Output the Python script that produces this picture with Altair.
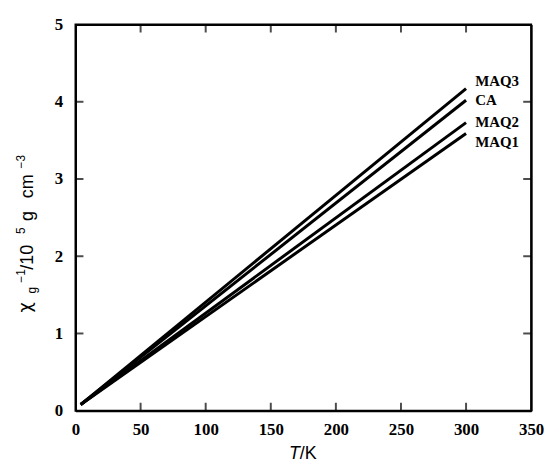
import altair as alt
import pandas as pd

# ---- data ----
series = ["MAQ1", "MAQ2", "CA", "MAQ3"]
t_start = 4
t_end = 300
chi_start = [0.08, 0.08, 0.08, 0.08]
chi_end = [3.59, 3.73, 4.02, 4.17]

label_text = ["MAQ3", "CA", "MAQ2", "MAQ1"]
label_y = [4.27, 4.02, 3.74, 3.48]
label_x = 307

x_ticks = [0, 50, 100, 150, 200, 250, 300, 350]
y_ticks = [0, 1, 2, 3, 4, 5]
x_inner = [50, 100, 150, 200, 250, 300]
y_inner = [1, 2, 3, 4]

W, H = 459, 389
TL = 8  # inward tick length

rows = []
for s, a, b in zip(series, chi_start, chi_end):
    rows.append({"series": s, "T": t_start, "chi": a})
    rows.append({"series": s, "T": t_end, "chi": b})
lines_df = pd.DataFrame(rows)
labels_df = pd.DataFrame({"label": label_text, "chi": label_y, "T": [label_x] * len(label_text)})

xscale = alt.Scale(domain=[0, 350], nice=False, zero=False)
yscale = alt.Scale(domain=[0, 5], nice=False, zero=False)

common = dict(title=None, ticks=False, grid=False, domain=True, domainColor="black",
              domainWidth=2)
x_axis = alt.Axis(values=x_ticks, format="d", labelFont="Liberation Serif", labelFontWeight="bold",
                  labelFontSize=17, labelColor="black", labelPadding=11, labelFlush=False, **common)
y_axis = alt.Axis(values=y_ticks, format="d", labelFont="Liberation Serif", labelFontWeight="bold",
                  labelFontSize=17, labelColor="black", labelPadding=13, labelFlush=False, **common)
x_top = alt.Axis(orient="top", labels=False, **common)
y_right = alt.Axis(orient="right", labels=False, **common)

lines = alt.Chart(lines_df).mark_line(color="black", strokeWidth=3).encode(
    x=alt.X("T:Q", scale=xscale, axis=x_axis),
    y=alt.Y("chi:Q", scale=yscale, axis=y_axis),
    detail="series:N",
)

mirror = alt.Chart(lines_df).mark_line(opacity=0).encode(
    x=alt.X("T:Q", scale=xscale, axis=x_top),
    y=alt.Y("chi:Q", scale=yscale, axis=y_right),
    detail="series:N",
)

labels = alt.Chart(labels_df).mark_text(
    align="left", baseline="middle", font="Liberation Serif", fontWeight="bold",
    fontSize=15, color="black"
).encode(x=alt.X("T:Q", scale=xscale, axis=None), y=alt.Y("chi:Q", scale=yscale, axis=None),
         text="label:N")

xt_df = pd.DataFrame({"T": x_inner})
yt_df = pd.DataFrame({"chi": y_inner})
tick_bottom = alt.Chart(xt_df).mark_tick(orient="vertical", size=TL, thickness=2, color="black",
                                         yOffset=-TL / 2).encode(
    x=alt.X("T:Q", scale=xscale, axis=None), y=alt.value(H))
tick_top = alt.Chart(xt_df).mark_tick(orient="vertical", size=TL, thickness=2, color="black",
                                      yOffset=TL / 2).encode(
    x=alt.X("T:Q", scale=xscale, axis=None), y=alt.value(0))
tick_left = alt.Chart(yt_df).mark_tick(orient="horizontal", size=TL, thickness=2, color="black",
                                       xOffset=TL / 2).encode(
    y=alt.Y("chi:Q", scale=yscale, axis=None), x=alt.value(0))
tick_right = alt.Chart(yt_df).mark_tick(orient="horizontal", size=TL, thickness=2, color="black",
                                        xOffset=-TL / 2).encode(
    y=alt.Y("chi:Q", scale=yscale, axis=None), x=alt.value(W))

# ---- axis titles built from text pieces ----
def piece(text, x, y, size, angle=0, align="left", style="normal", font="Liberation Sans"):
    return alt.Chart(pd.DataFrame({"t": [text]})).mark_text(
        align=align, baseline="alphabetic", font=font, fontSize=size,
        fontStyle=style, angle=angle, color="black"
    ).encode(text="t:N", x=alt.value(x), y=alt.value(y))

ox, oy = 76, 23
xt1 = piece("T", 302 - ox, 461 - oy, 18, align="right", style="italic")
xt2 = piece("/K", 302 - ox, 461 - oy, 18)

ya = []
ya.append(piece("χ", 31 - ox, 313 - oy, 18, angle=270, font="DejaVu Sans"))
ya.append(piece("g", 36 - ox, 294 - oy, 12, angle=270))
ya.append(piece("−1", 25 - ox, 283 - oy, 12, angle=270))
ya.append(piece("/10", 33 - ox, 270 - oy, 18, angle=270))
ya.append(piece("5", 25 - ox, 234 - oy, 12, angle=270))
ya.append(piece("g", 33 - ox, 221 - oy, 18, angle=270))
ya.append(piece("cm", 33 - ox, 198 - oy, 18, angle=270))
ya.append(piece("−3", 25 - ox, 168 - oy, 12, angle=270))

chart = alt.layer(
    lines, mirror, labels, tick_bottom, tick_top, tick_left, tick_right, xt1, xt2, *ya
).resolve_axis(x="independent", y="independent").properties(
    width=W, height=H,
    autosize=alt.AutoSizeParams(type="none"),
    padding={"left": 68, "top": 15, "right": 20, "bottom": 50},
).configure_view(stroke="black", strokeWidth=2)

chart.save("out.html", embed_options={"renderer": "svg", "actions": False})
